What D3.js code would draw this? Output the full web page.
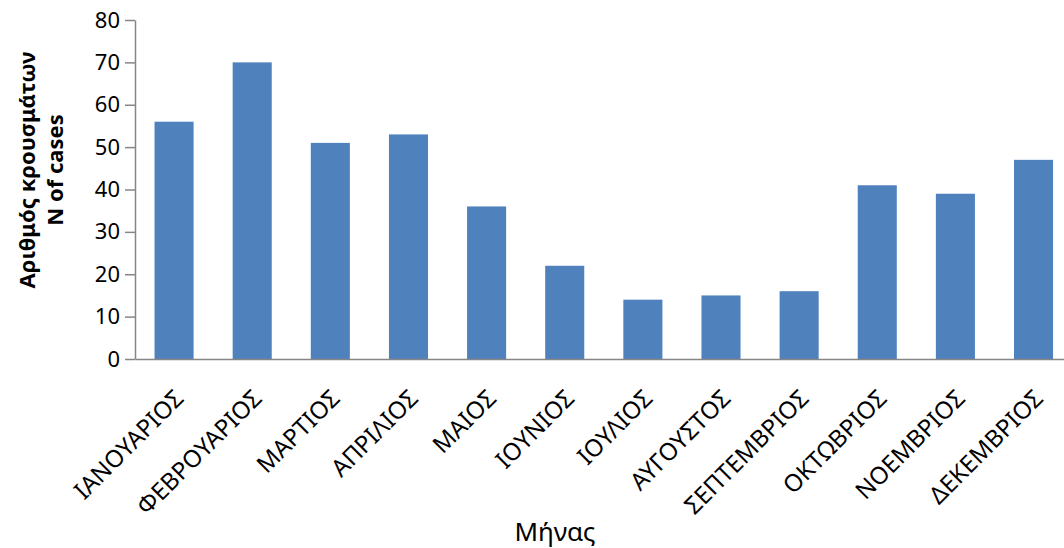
<!DOCTYPE html>
<html>
<head>
<meta charset="utf-8">
<script src="https://cdn.jsdelivr.net/npm/d3@7"></script>
<style>
  html, body { margin: 0; padding: 0; background: #fff; }
  svg { display: block; font-family: "Noto Sans", "Open Sans", sans-serif; }
</style>
</head>
<body>
<svg id="chart" width="1064" height="548"></svg>
<script>
// Monthly case counts
const months = ["ΙΑΝΟΥΑΡΙΟΣ", "ΦΕΒΡΟΥΑΡΙΟΣ", "ΜΑΡΤΙΟΣ", "ΑΠΡΙΛΙΟΣ", "ΜΑΙΟΣ", "ΙΟΥΝΙΟΣ",
                "ΙΟΥΛΙΟΣ", "ΑΥΓΟΥΣΤΟΣ", "ΣΕΠΤΕΜΒΡΙΟΣ", "ΟΚΤΩΒΡΙΟΣ", "ΝΟΕΜΒΡΙΟΣ", "ΔΕΚΕΜΒΡΙΟΣ"];
const cases = [56, 70, 51, 53, 36, 22, 14, 15, 16, 41, 39, 47];
const yTicks = [0, 10, 20, 30, 40, 50, 60, 70, 80];
const yTitleLines = ["Αριθμός κρουσμάτων", "N of cases"];
const xTitle = "Μήνας";

const FONT = "'Noto Sans', 'Open Sans', sans-serif";
const svg = d3.select("#chart");
const plotLeft = 135, plotRight = 1072.6, plotTop = 20, plotBottom = 359;
const axisColor = "#868686";

const x = d3.scaleBand().domain(months).range([plotLeft, plotRight]).paddingInner(0.5).paddingOuter(0.25);
const y = d3.scaleLinear().domain([0, 80]).range([plotBottom, plotTop]);

// bars
svg.append("g").selectAll("rect").data(cases).join("rect")
  .attr("x", (d, i) => x(months[i]))
  .attr("y", d => y(d))
  .attr("width", x.bandwidth())
  .attr("height", d => y(0) - y(d))
  .attr("fill", "#4F81BD");

// y axis
const yAxis = svg.append("g").attr("transform", `translate(${plotLeft},0)`)
  .call(d3.axisLeft(y).tickValues(yTicks).tickSize(10).tickPadding(5).tickSizeOuter(0))
  .attr("font-family", FONT);
yAxis.select(".domain").attr("stroke", axisColor).attr("stroke-width", 1.5);
yAxis.selectAll(".tick line").attr("stroke", axisColor).attr("stroke-width", 1.5);
yAxis.selectAll(".tick text").attr("font-size", 22).attr("fill", "#000");

// x axis with month names slanted at 45 degrees
const xAxis = svg.append("g").attr("transform", `translate(0,${plotBottom})`)
  .call(d3.axisBottom(x).tickSize(0).tickSizeOuter(0))
  .attr("font-family", FONT);
xAxis.select(".domain").attr("stroke", axisColor).attr("stroke-width", 1.5);
xAxis.selectAll(".tick text")
  .attr("font-size", 24)
  .attr("fill", "#000")
  .attr("text-anchor", "end")
  .attr("transform", "translate(11,41) rotate(-45)")
  .attr("dx", 0).attr("dy", 0).attr("y", 0);

// axis titles
svg.append("text")
  .attr("x", 555).attr("y", 541)
  .attr("text-anchor", "middle")
  .attr("font-family", FONT)
  .attr("font-size", 26).attr("fill", "#000")
  .text(xTitle);

const yt = svg.append("text")
  .attr("transform", "translate(35,170) rotate(-90)")
  .attr("text-anchor", "middle")
  .attr("font-family", FONT)
  .attr("font-size", 22).attr("font-weight", "bold").attr("fill", "#000");
yt.selectAll("tspan").data(yTitleLines).join("tspan")
  .attr("x", 0).attr("dy", (d, i) => i === 0 ? 0 : 28)
  .text(d => d);
</script>
</body>
</html>
